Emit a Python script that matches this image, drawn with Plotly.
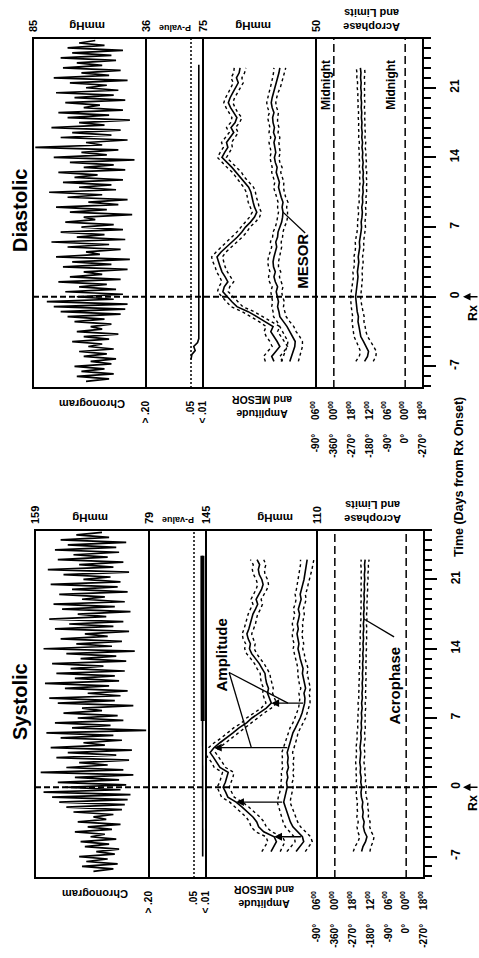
import plotly.graph_objects as go

W, H = 479, 958
FONT = "Liberation Sans, Arial, Helvetica, sans-serif"

# ---------------- data ----------------
# raw blood pressure readings (chronogram), every 6 h from day -8.5
chrono_t0, chrono_dt = -8.5, 0.25
dia_chrono = [62, 52, 66, 50, 64, 54, 67, 51, 60, 49, 63, 53,
              65, 50, 61, 55, 68, 52, 63, 48, 66, 55, 60, 51,
              67, 54, 70, 47, 73, 45, 76, 44, 79, 50, 66, 46,
              71, 49, 65, 53, 74, 47, 69, 55, 63, 44, 72, 51,
              68, 43, 75, 56, 62, 47, 70, 52, 77, 45, 66, 54,
              73, 46, 64, 50, 71, 58, 63, 42, 69, 53, 75, 48,
              61, 44, 70, 55, 78, 49, 65, 51, 72, 46, 67, 57,
              74, 45, 63, 50, 69, 41, 76, 53, 64, 48, 84, 55,
              62, 44, 73, 51, 68, 47, 77, 54, 65, 43, 70, 52,
              74, 46, 63, 56, 71, 45, 67, 50, 75, 48, 62, 53,
              69, 44, 76, 52, 64, 47, 72, 55, 66, 49, 73, 51,
              68, 46, 70, 54, 65, 58]
sys_chrono = [118, 104, 126, 101, 123, 108, 128, 103, 116, 100, 124, 107,
              127, 102, 120, 110, 131, 105, 122, 99, 129, 109, 118, 104,
              132, 98, 137, 96, 142, 94, 147, 92, 153, 99, 138, 95,
              143, 100, 131, 90, 155, 97, 137, 108, 128, 93, 144, 102,
              136, 91, 148, 110, 125, 98, 141, 104, 151, 81, 133, 106,
              145, 97, 129, 101, 139, 112, 126, 90, 143, 103, 149, 99,
              122, 94, 138, 107, 152, 100, 131, 103, 144, 96, 134, 111,
              147, 95, 127, 102, 137, 89, 153, 105, 130, 98, 141, 108,
              124, 93, 145, 104, 135, 97, 149, 109, 129, 92, 140, 103,
              146, 96, 126, 110, 142, 94, 133, 101, 148, 99, 125, 106,
              139, 93, 150, 104, 128, 97, 143, 108, 132, 100, 145, 102,
              136, 95, 141, 107, 130, 112]

# moving cosinor fits, every 12 h from day -6.5
fit_t0, fit_dt = -6.5, 0.5
dia_amp = [59.3, 59.8, 58.9, 58.0, 58.6, 59.4, 60.0, 59.5, 61.2, 63.1,
           65.0, 67.5, 68.6, 69.6, 70.6, 70.3, 69.5, 70.1, 70.8, 71.2,
           71.6, 71.9, 71.0, 69.8, 68.5, 67.4, 66.4, 65.6, 64.5, 63.6,
           63.1, 63.6, 63.9, 64.2, 64.4, 64.9, 65.8, 66.8, 67.5, 68.6,
           69.7, 70.8, 70.2, 69.5, 69.8, 69.0, 68.2, 68.8, 67.9, 67.5,
           68.3, 68.9, 69.4, 69.0, 68.4, 67.8, 67.2, 67.6, 67.0, 66.8]
dia_mesor = [55.8, 55.4, 55.0, 54.7, 54.6, 55.2, 55.9, 56.4, 57.2, 58.0,
             58.2, 58.5, 58.3, 58.6, 58.8, 58.5, 59.0, 59.3, 59.0, 59.4,
             59.5, 59.3, 59.0, 58.7, 58.9, 58.5, 58.4, 58.0, 57.6, 57.4,
             57.3, 57.5, 57.3, 57.7, 58.0, 58.3, 58.1, 58.5, 58.8, 58.6,
             59.0, 59.2, 58.9, 59.1, 59.3, 59.0, 59.4, 59.2, 59.5, 59.6,
             59.3, 59.7, 59.9, 59.7, 59.4, 59.0, 58.7, 58.4, 58.2, 58.0]
dia_ci = [1.9, 1.8, 1.8, 1.7, 1.6, 1.6, 1.5, 1.5, 1.4, 1.4,
          1.3, 1.3, 1.3, 1.2, 1.2, 1.2, 1.3, 1.2, 1.2, 1.1,
          1.2, 1.2, 1.1, 1.1, 1.2, 1.1, 1.1, 1.0, 1.1, 1.1,
          1.0, 1.0, 1.1, 1.0, 1.0, 1.1, 1.0, 1.0, 1.0, 1.1,
          1.0, 1.0, 1.0, 1.0, 1.1, 1.0, 1.0, 1.0, 1.0, 1.1,
          1.0, 1.0, 1.0, 1.0, 1.0, 1.1, 1.1, 1.2, 1.2, 1.3]
sys_amp = [124.5, 123.6, 122.8, 123.5, 126.8, 128.4, 129.0, 130.2, 131.8, 133.6,
           135.5, 138.1, 138.8, 139.6, 138.9, 138.4, 138.0, 140.6, 141.5, 142.6,
           143.7, 142.5, 140.6, 138.4, 136.5, 134.6, 132.2, 130.5, 128.3, 126.0,
           124.4, 125.0, 125.6, 125.3, 125.9, 126.2, 126.4, 127.3, 128.2, 129.4,
           130.6, 131.3, 131.0, 131.7, 132.1, 131.5, 131.0, 130.6, 130.2, 129.4,
           128.7, 129.2, 128.3, 127.5, 127.0, 127.4, 128.2, 128.5, 128.1, 128.9]
sys_mesor = [116.6, 115.5, 114.2, 114.6, 116.0, 117.6, 118.4, 119.0, 119.5, 120.0,
             120.5, 120.2, 119.8, 119.4, 119.6, 119.2, 119.5, 119.0, 119.3, 119.1,
             119.4, 118.9, 118.4, 118.0, 117.6, 116.8, 116.0, 115.3, 114.7, 114.2,
             113.9, 113.8, 114.1, 113.6, 114.0, 114.3, 114.6, 114.4, 114.9, 115.3,
             115.6, 116.0, 115.7, 116.1, 116.3, 115.9, 116.2, 115.8, 115.5, 115.9,
             115.4, 115.0, 115.3, 114.8, 114.5, 114.1, 113.8, 113.5, 113.2, 113.1]
sys_ci = [2.9, 2.8, 2.7, 2.6, 2.5, 2.4, 2.3, 2.2, 2.2, 2.1,
          2.0, 2.0, 1.9, 1.9, 1.8, 1.9, 1.8, 1.8, 1.7, 1.8,
          1.7, 1.7, 1.8, 1.7, 1.6, 1.7, 1.6, 1.7, 1.6, 1.6,
          1.7, 1.6, 1.6, 1.5, 1.6, 1.6, 1.5, 1.6, 1.5, 1.5,
          1.6, 1.5, 1.5, 1.6, 1.5, 1.5, 1.6, 1.5, 1.5, 1.6,
          1.5, 1.6, 1.6, 1.7, 1.7, 1.8, 1.8, 1.9, 2.0, 2.1]
dia_acro = [-205, -190, -185, -196, -210, -224, -230, -233, -238, -236,
            -242, -245, -248, -250, -247, -244, -240, -238, -241, -236,
            -234, -237, -232, -229, -231, -226, -223, -220, -222, -218,
            -216, -219, -214, -216, -212, -214, -210, -213, -211, -215,
            -212, -216, -214, -218, -215, -219, -217, -220, -218, -221,
            -219, -222, -220, -223, -221, -224, -222, -225, -223, -226]
dia_acro_ci = [44, 42, 40, 38, 36, 34, 32, 31, 30, 29,
               28, 27, 26, 25, 25, 24, 24, 23, 23, 22,
               22, 22, 21, 21, 21, 20, 20, 20, 19, 19,
               19, 19, 18, 18, 18, 18, 17, 17, 17, 17,
               17, 17, 17, 16, 16, 16, 16, 16, 16, 16,
               16, 16, 17, 17, 17, 18, 18, 19, 20, 21]
sys_acro = [-225, -218, -205, -198, -210, -216, -212, -220, -217, -222,
            -219, -226, -228, -224, -229, -227, -232, -230, -234, -231,
            -229, -233, -230, -227, -229, -225, -227, -224, -226, -222,
            -225, -221, -223, -220, -222, -219, -221, -218, -220, -217,
            -219, -216, -218, -215, -217, -214, -216, -213, -215, -212,
            -214, -211, -213, -210, -212, -209, -211, -208, -210, -207]
sys_acro_ci = [42, 40, 38, 36, 34, 32, 30, 29, 28, 27,
               26, 25, 24, 24, 23, 23, 22, 22, 21, 21,
               21, 20, 20, 20, 19, 19, 19, 18, 18, 18,
               18, 18, 17, 17, 17, 17, 17, 16, 16, 16,
               16, 16, 16, 16, 16, 16, 15, 15, 15, 15,
               15, 15, 16, 16, 16, 17, 17, 18, 19, 20]

# rhythm detection p-values
dia_p_days = [-6.3, -5.8, -5.4, -5.0, -4.6, -4.2, 0.0, 10.0, 20.0, 23.3]
dia_p = [0.050, 0.047, 0.036, 0.041, 0.028, 0.024, 0.024, 0.024, 0.024, 0.024]
sys_p_days = [-7.0, -4.0, -1.0, 2.0, 5.0, 6.7, 10.0, 14.0, 18.0, 23.4]
sys_p = [0.021, 0.021, 0.021, 0.021, 0.021, 0.021, 0.022, 0.022, 0.022, 0.022]
sys_p_strong_from = 6.7

# systolic amplitude arrows (days)
sys_arrow_days = [8.5, 4.0, -1.5, -5.0]

# tick labels
day_ticks = [-7, 0, 7, 14, 21]
p_ticks = [0.20, 0.05, 0.01]
p_ticktext = ["> .20", ".05", "< .01"]
acro_ticks = [-450, -360, -270, -180, -90, 0, 90]
acro_deg = ["-90°", "-360°", "-270°", "-180°", "-90°", "0°", "-270°"]
acro_clock = ["06", "00", "18", "12", "06", "00", "18"]

T_RANGE = [-9.17, 26.0]


def fx(px):
    return px / W


def fy(py):
    return 1 - py / H


def fit_times(vals):
    return [fit_t0 + fit_dt * i for i in range(len(vals))]


def fit_at(vals, day):
    return vals[int(round((day - fit_t0) / fit_dt))]


panels = [
    dict(title="Diastolic", top=38, bot=388, edges=[33, 146, 203, 316, 423],
         chrono=dia_chrono, chrono_range=[85, 36], amp=dia_amp, mesor=dia_mesor,
         ci=dia_ci, amp_range=[75, 50], acro=dia_acro, acro_ci=dia_acro_ci,
         p_days=dia_p_days, p=dia_p),
    dict(title="Systolic", top=530, bot=878, edges=[35, 149, 206, 317, 424],
         chrono=sys_chrono, chrono_range=[159, 79], amp=sys_amp, mesor=sys_mesor,
         ci=sys_ci, amp_range=[145, 110], acro=sys_acro, acro_ci=sys_acro_ci,
         p_days=sys_p_days, p=sys_p),
]

fig = go.Figure()
layout = dict(width=W, height=H, margin=dict(l=0, r=0, t=0, b=0),
              template="none", paper_bgcolor="white", plot_bgcolor="white",
              showlegend=False,
              font=dict(family=FONT, color="black", size=11, weight="bold"))
shapes = []
annotations = []

BOLD = dict(family=FONT, color="black", weight="bold")


def names(k):
    s = "" if k == 1 else str(k)
    return "x" + s, "y" + s, "xaxis" + s, "yaxis" + s


def line(xs, ys, k, width=1.6, dash="solid"):
    xa, ya, _, _ = names(k)
    fig.add_trace(go.Scatter(x=xs, y=ys, xaxis=xa, yaxis=ya, mode="lines",
                             line=dict(color="black", width=width, dash=dash),
                             hoverinfo="skip"))


for pi, P in enumerate(panels):
    e = P["edges"]
    ydom = [fy(P["bot"]), fy(P["top"])]
    base = pi * 4
    noframe = dict(showgrid=False, zeroline=False, showline=False,
                   fixedrange=True, automargin=False)
    for s in range(4):
        k = base + s + 1
        xa, ya, xkey, ykey = names(k)
        xax = dict(noframe, domain=[fx(e[s]), fx(e[s + 1])], anchor=ya, ticks="")
        yax = dict(noframe, domain=ydom, anchor=xa, range=T_RANGE,
                   showticklabels=False, ticks="")
        if s == 0:
            xax.update(side="top", range=P["chrono_range"],
                       tickvals=P["chrono_range"],
                       ticktext=[str(v) for v in P["chrono_range"]],
                       tickangle=-90, ticklabelstandoff=5,
                       tickfont=dict(BOLD, size=11))
        elif s == 1:
            xax.update(side="bottom", range=[0.20, 0.01], tickvals=p_ticks,
                       ticktext=p_ticktext, tickangle=-90, ticklabelstandoff=10,
                       tickfont=dict(BOLD, size=10))
        elif s == 2:
            xax.update(side="top", range=P["amp_range"],
                       tickvals=P["amp_range"],
                       ticktext=[str(v) for v in P["amp_range"]],
                       tickangle=-90, ticklabelstandoff=5,
                       tickfont=dict(BOLD, size=11))
        else:
            xax.update(side="bottom", range=[-450, 90], tickvals=acro_ticks,
                       ticktext=[d + "\u00a0\u00a0\u00a0\u00a0\u00a0" + c + "<sup>00</sup>"
                                 for d, c in zip(acro_deg, acro_clock)],
                       tickangle=-90, ticklabelstandoff=10,
                       tickfont=dict(BOLD, size=10))
            yax.update(side="right", showticklabels=True, ticks="outside",
                       ticklen=12, tickwidth=1.5, tickcolor="black",
                       tickvals=day_ticks, ticktext=[str(d) for d in day_ticks],
                       tickangle=-90, ticklabelstandoff=9,
                       tickfont=dict(BOLD, size=12),
                       minor=dict(ticks="outside", ticklen=7, tickwidth=1.5,
                                  tickcolor="black", dtick=1, tick0=0,
                                  showgrid=False))
        layout[xkey] = xax
        layout[ykey] = yax

    kc, kp, ka, kr = base + 1, base + 2, base + 3, base + 4

    # chronogram
    ct = [chrono_t0 + chrono_dt * i for i in range(len(P["chrono"]))]
    line(P["chrono"], ct, kc, width=1.7)

    # p-value
    line(P["p"], P["p_days"], kp, width=1.6)
    if pi == 1:
        sel = [i for i, d in enumerate(P["p_days"]) if d >= sys_p_strong_from]
        line([P["p"][i] for i in sel], [P["p_days"][i] for i in sel], kp, width=4)

    # amplitude & MESOR with limits
    ft = fit_times(P["amp"])
    for series in (P["amp"], P["mesor"]):
        line(series, ft, ka, width=1.6)
        line([v + c for v, c in zip(series, P["ci"])], ft, ka, width=1.4, dash="dot")
        line([v - c for v, c in zip(series, P["ci"])], ft, ka, width=1.4, dash="dot")

    # acrophase with limits
    line(P["acro"], ft, kr, width=1.6)
    line([v + c for v, c in zip(P["acro"], P["acro_ci"])], ft, kr, width=1.4, dash="dot")
    line([v - c for v, c in zip(P["acro"], P["acro_ci"])], ft, kr, width=1.4, dash="dot")

    # frames (panel box + strip dividers)
    shapes.append(dict(type="rect", xref="paper", yref="paper",
                       x0=fx(e[0]), x1=fx(e[4]), y0=fy(P["bot"]), y1=fy(P["top"]),
                       line=dict(color="black", width=2)))
    for xe in e[1:4]:
        shapes.append(dict(type="line", xref="paper", yref="paper",
                           x0=fx(xe), x1=fx(xe), y0=fy(P["bot"]), y1=fy(P["top"]),
                           line=dict(color="black", width=2)))

    # reference lines
    _, yc, _, _ = names(kc)
    shapes.append(dict(type="line", xref="paper", yref=yc, x0=fx(e[0]), x1=fx(e[4] + 4),
                       y0=0, y1=0, line=dict(color="black", width=1.8, dash="6px,3px")))
    xp, yp, _, _ = names(kp)
    shapes.append(dict(type="line", xref=xp, yref=yp + " domain", x0=0.05, x1=0.05,
                       y0=0, y1=1, line=dict(color="black", width=1.5, dash="2px,2px")))
    xr, yr, _, _ = names(kr)
    for mid in (-360, 0):
        shapes.append(dict(type="line", xref=xr, yref=yr + " domain", x0=mid, x1=mid,
                           y0=0, y1=1, line=dict(color="black", width=1.5, dash="8px,4px")))

    # text labels
    top, bot = P["top"], P["bot"]
    cx = [(e[i] + e[i + 1]) / 2 for i in range(4)]

    def ann(text, x, y, angle, size, **kw):
        d = dict(text=text, x=fx(x), y=fy(y), xref="paper", yref="paper",
                 showarrow=False, textangle=angle, xanchor="center", yanchor="middle",
                 font=dict(BOLD, size=size))
        d.update(kw)
        annotations.append(d)

    ann(P["title"], 20, (top + bot) / 2 - 2, -90, 20)
    ann("mmHg", cx[0] - 2, top - 12, 180, 11.5)
    ann("P-value", cx[1] + 1, top - 10, 180, 9)
    ann("mmHg", cx[2] + (-6 if pi == 0 else 14), top - 12, 180, 11.5)
    ann("Acrophase<br>and Limits", cx[3] + 2, top - 18, 180, 11)
    ann("Chronogram", cx[0] + 3, bot + 16, 180, 11)
    ann("Amplitude<br>and MESOR", cx[2] + 2, bot + 19, 180, 10.5)
    ann("Rx", 473, bot - 75, -90, 12.5)
    annotations.append(dict(text="", x=fx(463), y=0, xref="paper", yref=yc,
                            ax=16, ay=0, showarrow=True, arrowhead=2,
                            arrowsize=1, arrowwidth=1.5, arrowcolor="black"))

    xa_, ya_, _, _ = names(ka)
    if pi == 0:
        for phi in (-399, -71):
            annotations.append(dict(text="Midnight", x=phi, y=21.3, xref=xr, yref=yr,
                                    showarrow=False, textangle=-90,
                                    font=dict(BOLD, size=12)))
        annotations.append(dict(text="MESOR", x=52.9, y=3.6, xref=xa_, yref=ya_,
                                showarrow=False, textangle=-90,
                                font=dict(BOLD, size=15)))
        shapes.append(dict(type="line", xref=xa_, yref=ya_, x0=52.4, y0=6.4,
                           x1=fit_at(P["mesor"], 8.5), y1=8.5,
                           line=dict(color="black", width=1.3)))
    else:
        annotations.append(dict(text="Amplitude", x=140.0, y=13.4, xref=xa_, yref=ya_,
                                showarrow=False, textangle=-90,
                                font=dict(BOLD, size=15)))
        for d in sys_arrow_days:
            a, m = fit_at(P["amp"], d), fit_at(P["mesor"], d)
            annotations.append(dict(text="", x=a, y=d, ax=m, ay=d, xref=xa_, yref=ya_,
                                    axref=xa_, ayref=ya_, showarrow=True, arrowhead=2,
                                    arrowsize=1.2, arrowwidth=1.3, arrowcolor="black"))
        for d in (8.5, 4.0):
            mid = (fit_at(P["amp"], d) + fit_at(P["mesor"], d)) / 2
            shapes.append(dict(type="line", xref=xa_, yref=ya_, x0=137.7, y0=11.6,
                               x1=mid, y1=d, line=dict(color="black", width=1.3)))
        annotations.append(dict(text="Acrophase", x=-61, y=10.3, xref=xr, yref=yr,
                                showarrow=False, textangle=-90,
                                font=dict(BOLD, size=15)))
        shapes.append(dict(type="line", xref=xr, yref=yr, x0=-61, y0=15.2,
                           x1=fit_at(P["acro"], 17.0), y1=17.0,
                           line=dict(color="black", width=1.3)))

annotations.append(dict(text="Time (Days from Rx Onset)", x=fx(468), y=fy(477),
                        xref="paper", yref="paper", showarrow=False, textangle=-90,
                        font=dict(BOLD, size=12.5)))

layout["shapes"] = shapes
layout["annotations"] = annotations
fig.update_layout(**layout)
fig.write_html("out.html")
